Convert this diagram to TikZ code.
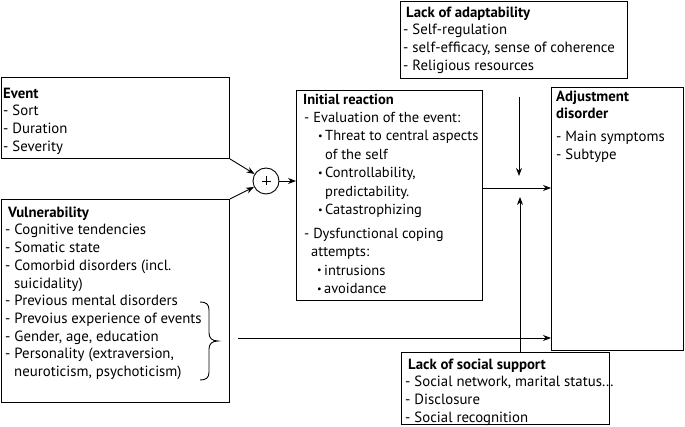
\documentclass[tikz,border=0pt]{standalone}
\usepackage{fontspec}
\setmainfont{PT Sans}
\usetikzlibrary{arrows.meta}
\newcommand\ind[1]{\hspace*{#1pt}}
\newcommand\bul{\makebox[7pt][l]{\raisebox{0.2ex}{\scalebox{0.7}{•}}}}
\newcommand\fl{\rule{0pt}{10.5pt}}
\begin{document}
\begin{tikzpicture}[x=1pt,y=-1pt,
  box/.style={draw, line width=0.9pt, anchor=north west, inner sep=0pt},
  txt/.style={anchor=north west, align=left, inner sep=0pt, font=\fontsize{14.8}{17.7}\selectfont},
  arr/.style={line width=0.9pt, -{Stealth[length=8pt,width=6pt]}},
  ln/.style={line width=0.9pt}]
\useasboundingbox (0,0) rectangle (685,427);

% boxes
\node[box, minimum width=228.5pt, minimum height=81pt] (event) at (0.5,77) {};
\node[box, minimum width=228.5pt, minimum height=203pt] (vuln) at (0.5,199) {};
\node[box, minimum width=186pt, minimum height=210pt] (init) at (296,90) {};
\node[box, minimum width=132pt, minimum height=263pt] (adj) at (551,87) {};
\node[box, minimum width=227pt, minimum height=77pt] (adapt) at (400,1) {};
\node[box, minimum width=208pt, minimum height=72pt] (social) at (401,352) {};
\node[draw, circle, line width=0.9pt, minimum size=26pt, inner sep=0pt] (plus) at (266,181) {};
\draw[line width=0.7pt] ([xshift=-4.5pt]plus.center) -- ([xshift=4.5pt]plus.center)
  ([yshift=-4.5pt]plus.center) -- ([yshift=4.5pt]plus.center);

% texts
\node[txt] (eventtxt) at (3,87.5) {\fl\textbf{Event}\\- Sort\\- Duration\\- Severity};
\node[txt] (vulntxt) at (5,206.5) {\fl\ind{3}\textbf{Vulnerability}\\- Cognitive tendencies\\- Somatic state\\- Comorbid disorders (incl.\\\ind{9}suicidality)\\- Previous mental disorders\\- Prevoius experience of events\\- Gender, age, education\\- Personality (extraversion,\\\ind{9}neuroticism, psychoticism)};
\node[txt, font=\fontsize{14.5}{18.4}\selectfont] (inittxt) at (303,93.5) {\fl\textbf{Initial reaction}\\\ind{1}- Evaluation of the event:\\\ind{15}\bul Threat to central aspects\\\ind{22}of the self\\\ind{15}\bul Controllability,\\\ind{22}predictability.\\\ind{15}\bul Catastrophizing\\[5.6pt]\ind{1}- Dysfunctional coping\\\ind{8}attempts:\\\ind{14}\bul intrusions\\\ind{14}\bul avoidance};
\node[txt] (adjtxt) at (556,90.5) {\fl\textbf{Adjustment}\\\textbf{disorder}\\[5pt]- Main symptoms\\- Subtype};
\node[txt] (adapttxt) at (403,6.5) {\fl\ind{3}\textbf{Lack of adaptability}\\- Self-regulation\\- self-efficacy, sense of coherence\\- Religious resources};
\node[txt] (socialtxt) at (405,358.5) {\fl\ind{3}\textbf{Lack of social support}\\- Social network, marital status...\\- Disclosure\\- Social recognition};

% brace
\coordinate (btop) at (200,302);
\coordinate (btip) at (218,341);
\coordinate (bbot) at (200,380);
\draw[ln] (btop) .. controls (206,302) and (209,304) .. (209,310) -- (209,333)
  .. controls (209,338) and (212,341) .. (btip)
  .. controls (212,341) and (209,344) .. (209,349) -- (209,372)
  .. controls (209,378) and (206,380) .. (bbot);

% connectors
\draw[arr] (event.south east) -- (plus);
\draw[arr] (vuln.north east) -- (plus);
\draw[arr] (plus.east) -- (plus.east -| init.west);
\coordinate (mid) at (500,188);
\draw[arr] (init.east |- mid) -- (adj.west |- mid);
\coordinate (bstart) at (238,338);
\draw[arr] (bstart) -- (adj.west |- bstart);
\coordinate (dtop) at (519,97);
\coordinate (dend) at (519,176);
\draw[arr] (dtop) -- (dend);
\coordinate (uend) at (520,197);
\draw[arr] (social.north -| uend) -- (uend);
\end{tikzpicture}
\end{document}
